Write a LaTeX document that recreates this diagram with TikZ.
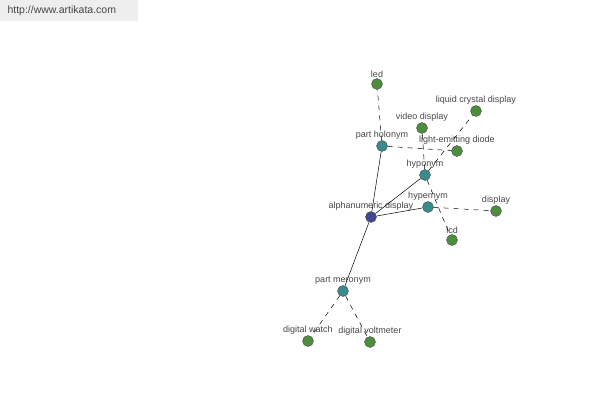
\documentclass[tikz,border=0pt]{standalone}
\usepackage{fontspec}
\setmainfont{Liberation Sans}
\usepackage{xcolor}
\definecolor{hub}{RGB}{62,72,150}
\definecolor{rel}{RGB}{58,140,140}
\definecolor{leaf}{RGB}{78,140,62}
\definecolor{txt}{RGB}{70,70,70}
\definecolor{banner}{RGB}{238,238,238}

\begin{document}
\begin{tikzpicture}[
          x=1pt, y=-1pt,
          dot/.style={circle, draw=black!70, line width=0.4pt, minimum size=11pt,
                      inner sep=0pt, label={[font=\fontsize{9}{10}\selectfont, text=txt, inner sep=1pt]above:#1}},
          word/.style={dot=#1, fill=leaf},
          link/.style={dot=#1, fill=rel},
          solid edge/.style={draw=black, line width=0.5pt},
          dash edge/.style={draw=black, line width=0.5pt, dash pattern=on 5pt off 5pt}
        ]
        \useasboundingbox (0,0) rectangle (600,400);
        \fill[banner] (0,0) rectangle (138,21);
        \node[font=\fontsize{10.5}{12}\selectfont, text=txt, anchor=west] (url) at (4,11) {http://www.artikata.com};

        % relation nodes
        \node[dot=alphanumeric display, fill=hub] (ad) at (371,217) {};
        \node[link=part holonym] (ph) at (382,146) {};
        \node[link=hyponym] (hpo) at (425,175) {};
        \node[link=hypernym] (hpe) at (428,207) {};
        \node[link=part meronym] (pm) at (343,291) {};

        % leaf words
        \node[word=led] (led) at (377,84) {};
        \node[word=video display] (vd) at (422,128) {};
        \node[word=liquid crystal display] (lcdisp) at (476,111) {};
        \node[word=light-emitting diode] (led2) at (457,151) {};
        \node[word=lcd] (lcd) at (452,240) {};
        \node[word=display] (disp) at (496,211) {};
        \node[word=digital watch] (dw) at (308,341) {};
        \node[word=digital voltmeter] (dv) at (370,342) {};

        \draw[solid edge] (ad) -- (ph);
        \draw[solid edge] (ad) -- (hpo);
        \draw[solid edge] (ad) -- (hpe);
        \draw[solid edge] (ad) -- (pm);
        \draw[dash edge] (ph) -- (led);
        \draw[dash edge] (ph) -- (led2);
        \draw[dash edge] (hpo) -- (vd);
        \draw[dash edge] (hpo) -- (lcdisp);
        \draw[dash edge] (hpo) -- (lcd);
        \draw[dash edge] (hpe) -- (disp);
        \draw[dash edge] (pm) -- (dw);
        \draw[dash edge] (pm) -- (dv);
      \end{tikzpicture}
\end{document}
